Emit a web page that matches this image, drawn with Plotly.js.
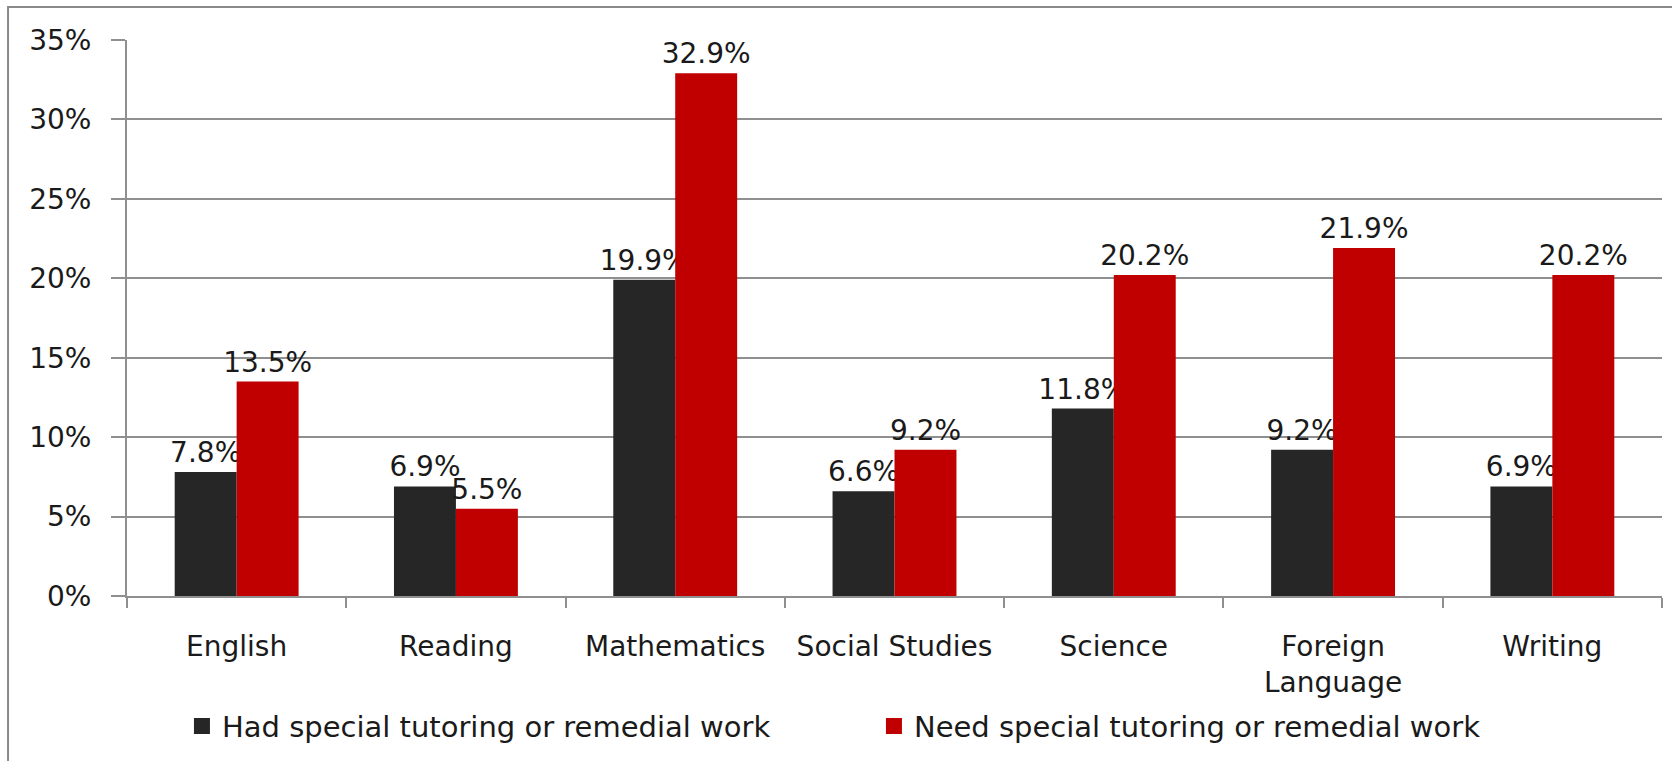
<!DOCTYPE html>
<html>
<head>
<meta charset="utf-8">
<script src="https://cdn.plot.ly/plotly-3.0.1.min.js"></script>
<style>
  html, body { margin: 0; padding: 0; background: #fff; }
</style>
</head>
<body>
<div id="chartDiv"></div>
<script>
// subjects on the x axis
var subjects = ["English", "Reading", "Mathematics", "Social Studies", "Science", "Foreign<br>Language", "Writing"];

// percent of students, per subject
var hadTutoring = [7.8, 6.9, 19.9, 6.6, 11.8, 9.2, 6.9];
var needTutoring = [13.5, 5.5, 32.9, 9.2, 20.2, 21.9, 20.2];

var seriesNames = ["Had special tutoring or remedial work", "Need special tutoring or remedial work"];
var seriesColors = ["#262626", "#c00000"];

var fontFamily = "DejaVu Sans, sans-serif";
var textColor = "#1a1a1a";
var gridGray = "#8f8f8f";

function labels(values) {
    return values.map(function (v) { return v.toFixed(1) + "%"; });
}

function barTrace(values, i) {
    return {
        x: subjects,
        y: values,
        type: "bar",
        name: seriesNames[i],
        showlegend: false,
        marker: { color: seriesColors[i], line: { width: 0 } },
        text: labels(values),
        textposition: "outside",
        constraintext: "none",
        cliponaxis: false,
        textfont: { family: fontFamily, size: 28, color: textColor },
        hoverinfo: "none"
    };
}

// legend-only entries so the legend squares can be bigger than the bar icon
function legendTrace(i) {
    return {
        x: [null],
        y: [null],
        type: "scatter",
        mode: "markers",
        name: seriesNames[i],
        marker: { symbol: "square", size: 16, color: seriesColors[i] },
        hoverinfo: "none"
    };
}

var traces = [
    barTrace(hadTutoring, 0),
    barTrace(needTutoring, 1),
    legendTrace(0),
    legendTrace(1)
];

var layout = {
    width: 1672,
    height: 761,
    margin: { l: 127, r: 10, t: 40, b: 165 },
    paper_bgcolor: "#fff",
    plot_bgcolor: "#fff",
    font: { family: fontFamily, size: 28, color: textColor },
    barmode: "group",
    bargap: 0.435,
    bargroupgap: 0,
    showlegend: true,
    legend: {
        orientation: "h",
        x: 0.0358,
        xanchor: "left",
        y: -0.234,
        yanchor: "middle",
        bgcolor: "rgba(0,0,0,0)",
        entrywidth: 647,
        entrywidthmode: "pixels",
        font: { family: fontFamily, size: 29, color: textColor },
        traceorder: "normal"
    },
    xaxis: {
        type: "category",
        showline: true,
        linecolor: gridGray,
        linewidth: 2,
        ticks: "outside",
        tickson: "boundaries",
        ticklen: 10,
        tickwidth: 2,
        tickcolor: gridGray,
        showgrid: false,
        ticklabelstandoff: 24,
        tickfont: { family: fontFamily, size: 28, color: textColor }
    },
    yaxis: {
        range: [0, 35],
        dtick: 5,
        ticksuffix: "%",
        showline: true,
        linecolor: gridGray,
        linewidth: 2,
        ticks: "outside",
        ticklen: 14,
        tickwidth: 2,
        tickcolor: gridGray,
        showgrid: true,
        gridcolor: gridGray,
        gridwidth: 2,
        zeroline: false,
        ticklabelstandoff: 14,
        tickfont: { family: fontFamily, size: 28, color: textColor }
    },
    shapes: [
        {
            // outer chart frame (only left and top edges fall inside the picture)
            type: "rect",
            xref: "paper", yref: "paper",
            x0: -0.0775, x1: 1.2,
            y0: -0.5, y1: 1.0594,
            line: { color: "#8a8a8a", width: 2 },
            layer: "below"
        }
    ]
};

Plotly.newPlot("chartDiv", traces, layout, { staticPlot: true });
</script>
</body>
</html>
